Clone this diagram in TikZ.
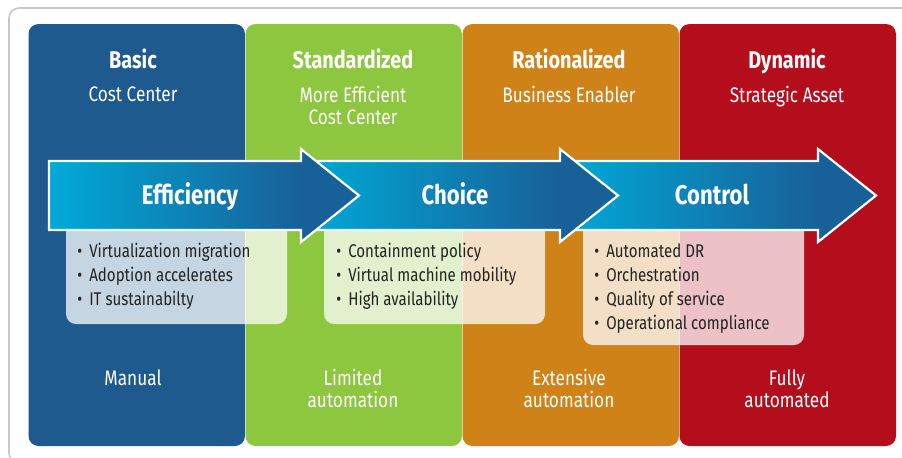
\documentclass[tikz,border=0pt]{standalone}
\usepackage{fontspec}
\setmainfont{Fira Sans}[FakeStretch=0.82]
\usepackage{tikz}
\usetikzlibrary{positioning}
\definecolor{basicblue}{RGB}{31,90,143}
\definecolor{stdgreen}{RGB}{141,198,63}
\definecolor{ratorange}{RGB}{206,130,24}
\definecolor{dynred}{RGB}{180,14,28}
\definecolor{arrlight}{RGB}{0,170,216}
\definecolor{arrdark}{RGB}{24,96,152}
\definecolor{framegray}{RGB}{200,200,200}
\definecolor{itemtext}{RGB}{35,35,35}
\newcommand{\itm}{\textbullet\hspace{3.5pt}}

\begin{document}
\begin{tikzpicture}[x=0.5pt,y=-0.5pt,
        title/.style={text=white,anchor=base,font=\bfseries\fontsize{12.1}{13}\selectfont},
        sub/.style={text=white,align=center,anchor=north,inner sep=0pt,font=\fontsize{10.5}{11}\selectfont},
        arrlabel/.style={text=white,anchor=base,font=\bfseries\fontsize{13.5}{15}\selectfont},
        items/.style={text=itemtext,align=left,anchor=north west,inner sep=0pt,font=\fontsize{9.2}{12}\selectfont}]
            \useasboundingbox (0,0) rectangle (902,457);
            \draw[framegray,line width=0.8pt,rounded corners=5pt] (9,8) rectangle (930,463);
            % columns
            \foreach \x/\c in {28/basicblue,245/stdgreen,462/ratorange,679/dynred}
                \fill[\c,rounded corners=5pt] (\x+0.5,24) rectangle ++(216.5,422);
            \node[title] (basic) at (133,68) {Basic};
            \node[title] (std) at (353,68) {Standardized};
            \node[title] (rat) at (569,68) {Rationalized};
            \node[title] (dyn) at (787,68) {Dynamic};
            \node[sub] (basicsub) at (133,86) {Cost Center};
            \node[sub] (stdsub) at (353,86) {More Efficient\\Cost Center};
            \node[sub] (ratsub) at (569,86) {Business Enabler};
            \node[sub] (dynsub) at (787,86) {Strategic Asset};
            \node[sub] (basicauto) at (133,369) {Manual};
            \node[sub] (stdauto) at (353,369) {Limited\\automation};
            \node[sub] (ratauto) at (569,369) {Extensive\\automation};
            \node[sub] (dynauto) at (787,369) {Fully\\automated};
            % lists
            \fill[white,opacity=0.75,rounded corners=5pt] (66,200) rectangle (287,324);
            \fill[white,opacity=0.75,rounded corners=5pt] (324,200) rectangle (545,324);
            \fill[white,opacity=0.75,rounded corners=5pt] (583,200) rectangle (804,345);
            \node[items] (effitems) at (77,243) {\itm Virtualization migration\\\itm Adoption accelerates\\\itm IT sustainabilty};
            \node[items] (choitems) at (336,243) {\itm Containment policy\\\itm Virtual machine mobility\\\itm High availability};
            \node[items] (ctlitems) at (594,243) {\itm Automated DR\\\itm Orchestration\\\itm Quality of service\\\itm Operational compliance};
            % arrows
            \foreach \s/\e/\lx/\lab in {560/818/712/Control,300/560/455/Choice,49/301/190/Efficiency}{
                \shade[left color=arrlight,right color=arrdark] (\s,161) rectangle (\e,230);
                \fill[arrdark] (\e,149) -- (\e+58,195.5) -- (\e,242) -- cycle;
                \draw[white,line width=1.1pt] (\s,161) -- (\e,161) -- (\e,149) -- (\e+58,195.5) -- (\e,242) -- (\e,230) -- (\s,230) -- cycle;
                \node[arrlabel] (\lab) at (\lx,204) {\lab};
            }
        \end{tikzpicture}
\end{document}
